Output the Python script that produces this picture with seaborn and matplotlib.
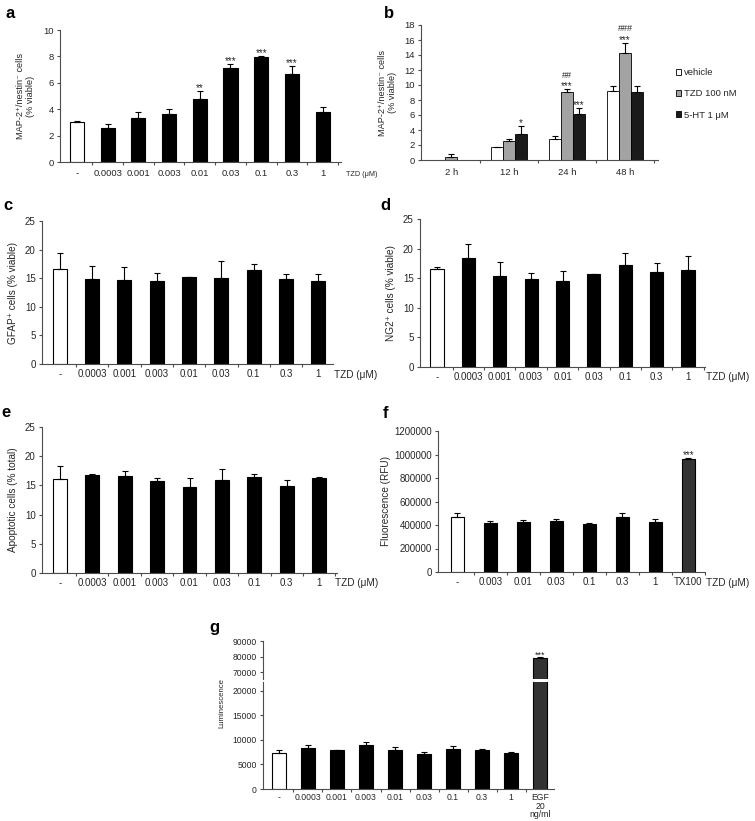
import numpy as np
import pandas as pd
import matplotlib
matplotlib.use("Agg")
import matplotlib.pyplot as plt
import seaborn as sns
from matplotlib.patches import Patch
from matplotlib.ticker import FixedLocator, MultipleLocator, StrMethodFormatter

# ---------------- data ----------------
a_cats = ['-', '0.0003', '0.001', '0.003', '0.01', '0.03', '0.1', '0.3', '1']
a_vals = [3.0, 2.6, 3.3, 3.6, 4.75, 7.1, 7.95, 6.65, 3.75]
a_errs = [0.12, 0.3, 0.45, 0.45, 0.65, 0.35, 0.1, 0.6, 0.38]
a_sig = ['', '', '', '', '**', '***', '***', '***', '']

b_times = ['2 h', '12 h', '24 h', '48 h']
b_groups = ['vehicle', 'TZD 100 nM', '5-HT 1 μM']
b_vehicle = [0.0, 1.7, 2.8, 9.2]
b_vehicle_err = [0.0, 0.05, 0.45, 0.7]
b_tzd = [0.4, 2.5, 9.0, 14.2]
b_tzd_err = [0.45, 0.3, 0.4, 1.4]
b_5ht = [0.0, 3.4, 6.1, 9.1]
b_5ht_err = [0.0, 1.1, 0.8, 0.7]
b_tzd_sig = ['', '', '***', '***']
b_tzd_hash = ['', '', '##', '###']
b_5ht_sig = ['', '*', '***', '']

c_vals = [16.6, 14.9, 14.7, 14.5, 15.2, 15.1, 16.4, 14.9, 14.5]
c_errs = [2.75, 2.2, 2.3, 1.4, 0.05, 2.85, 1.05, 0.85, 1.15]

d_vals = [16.5, 18.45, 15.3, 14.85, 14.6, 15.65, 17.2, 16.05, 16.4]
d_errs = [0.35, 2.3, 2.4, 1.07, 1.7, 0.03, 2.0, 1.45, 2.4]

e_vals = [16.05, 16.8, 16.6, 15.7, 14.75, 15.85, 16.5, 14.9, 16.25]
e_errs = [2.3, 0.2, 0.95, 0.55, 1.5, 2.0, 0.4, 0.95, 0.2]

f_cats = ['-', '0.003', '0.01', '0.03', '0.1', '0.3', '1', 'TX100']
f_vals = [465000, 417000, 423000, 437000, 406000, 471000, 423000, 959000]
f_errs = [37000, 18000, 20000, 11000, 9000, 34000, 31000, 9000]
f_sig = ['', '', '', '', '', '', '', '***']

g_cats = ['-', '0.0003', '0.001', '0.003', '0.01', '0.03', '0.1', '0.3', '1', 'EGF\n20\nng/ml']
g_vals = [7380, 8270, 7930, 8940, 7860, 7110, 8130, 7860, 7250, 79200]
g_errs = [600, 670, 80, 680, 680, 340, 670, 270, 340, 300]
g_sig = ['', '', '', '', '', '', '', '', '', '***']

# ---------------- style ----------------
sns.set_theme(style="ticks")
plt.rcParams['font.family'] = ['Liberation Sans', 'DejaVu Sans']
plt.rcParams['axes.linewidth'] = 0.8
plt.rcParams['axes.edgecolor'] = '#4d4d4d'
plt.rcParams['xtick.color'] = '#4d4d4d'
plt.rcParams['ytick.color'] = '#4d4d4d'
plt.rcParams['xtick.labelcolor'] = '#262626'
plt.rcParams['ytick.labelcolor'] = '#262626'
plt.rcParams['text.color'] = '#262626'

W, H = 755, 821
fig = plt.figure(figsize=(W / 100, H / 100), dpi=100)


def add_ax(x0, x1, ytop, ybot):
    return fig.add_axes([x0 / W, 1 - ybot / H, (x1 - x0) / W, (ybot - ytop) / H])


def sorted_patches(ax):
    return sorted(ax.patches, key=lambda p: p.get_x())


def star(ax, x, y, s, fs=7, dy=0.0):
    ax.annotate(s, xy=(x, y), xytext=(0, dy), textcoords='offset points',
                ha='center', va='baseline', fontsize=fs, color='#262626')


def single_bars(ax, cats, vals, errs, colors, width, sig=None, capsize=2.2,
                starsize=7):
    df = pd.DataFrame({'cat': cats, 'val': vals})
    sns.barplot(data=df, x='cat', y='val', hue='cat', order=cats,
                hue_order=cats, palette=colors, width=width, dodge=False,
                edgecolor='black', linewidth=0.8, legend=False, ax=ax)
    ps = sorted_patches(ax)
    xs = np.array([p.get_x() + p.get_width() / 2 for p in ps])
    v = np.array(vals, float)
    e = np.array(errs, float)
    ax.errorbar(xs, v, yerr=[np.zeros_like(e), e], fmt='none', ecolor='black',
                elinewidth=0.8, capsize=capsize, capthick=0.8, zorder=3)
    if sig is not None:
        for x, vv, ee, s in zip(xs, v, e, sig):
            if s:
                star(ax, x, vv + ee, s, fs=starsize)
    return xs


def style_ax(ax, n, xlim, ylim, ystep, fs=6.8, pad=4):
    sns.despine(ax=ax)
    ax.set_xlim(*xlim)
    ax.set_ylim(*ylim)
    ax.yaxis.set_major_locator(MultipleLocator(ystep))
    ax.set_xlabel('')
    ax.set_ylabel('')
    ax.xaxis.set_minor_locator(FixedLocator(np.arange(n) + 0.5))
    ax.tick_params(axis='x', which='major', length=0, labelsize=fs, pad=pad)
    ax.tick_params(axis='x', which='minor', length=2.5, width=0.8)
    ax.tick_params(axis='y', which='major', length=2.5, width=0.8,
                   labelsize=fs, pad=2)


def ylabel(ax, text, right_px, x0, x1, fs):
    ax.set_ylabel(text, fontsize=fs, linespacing=1.1)
    ax.yaxis.set_label_coords((right_px - x0) / (x1 - x0), 0.5)


def ftext(px, py, s, **kw):
    fig.text(px / W, 1 - py / H, s, **kw)


black9 = ['white'] + ['black'] * 8

# ---------------- panel a ----------------
x0, x1 = 60, 341
ax = add_ax(x0, x1, 30, 162)
single_bars(ax, a_cats, a_vals, a_errs, black9, 0.46, a_sig)
style_ax(ax, 9, (-0.55, 8.6), (0, 10), 2, fs=6.8, pad=5)
ylabel(ax, 'MAP-2⁺/nestin⁻ cells\n(% viable)', 35, x0, x1, 6.6)
ftext(362, 174, 'TZD (μM)', fontsize=5.2, ha='center', va='center')

# ---------------- panel b ----------------
x0, x1 = 421, 658
ax = add_ax(x0, x1, 25, 160)
rows = []
for i, t in enumerate(b_times):
    rows.append((t, b_groups[0], b_vehicle[i]))
    rows.append((t, b_groups[1], b_tzd[i]))
    rows.append((t, b_groups[2], b_5ht[i]))
dfb = pd.DataFrame(rows, columns=['time', 'group', 'val'])
b_colors = ['white', '#a3a3a3', '#1a1a1a']
sns.barplot(data=dfb, x='time', y='val', hue='group', order=b_times,
            hue_order=b_groups, palette=b_colors, width=0.62,
            edgecolor='black', linewidth=0.6, legend=False, ax=ax)
ps = sorted_patches(ax)
xs = np.array([p.get_x() + p.get_width() / 2 for p in ps])
vals = []
errs = []
sigs = []
hashes = []
for i in range(len(b_times)):
    vals += [b_vehicle[i], b_tzd[i], b_5ht[i]]
    errs += [b_vehicle_err[i], b_tzd_err[i], b_5ht_err[i]]
    sigs += ['', b_tzd_sig[i], b_5ht_sig[i]]
    hashes += ['', b_tzd_hash[i], '']
vals = np.array(vals)
errs = np.array(errs)
m = errs > 0
ax.errorbar(xs[m], vals[m], yerr=[np.zeros(m.sum()), errs[m]], fmt='none',
            ecolor='black', elinewidth=0.8, capsize=2.0, capthick=0.8,
            zorder=3)
for x, v, e, s, h in zip(xs, vals, errs, sigs, hashes):
    if s:
        star(ax, x, v + e, s, fs=7, dy=0.3)
    if h:
        star(ax, x, v + e, h, fs=6.5, dy=8.5)
style_ax(ax, 4, (-0.52, 3.57), (0, 18), 2, fs=6.8, pad=6)
ylabel(ax, 'MAP-2⁺/nestin⁻ cells\n(% viable)', 397, x0, x1, 6.6)
handles = [Patch(facecolor=c, edgecolor='black', linewidth=0.6)
           for c in b_colors]
fig.legend(handles, b_groups, loc='upper left',
           bbox_to_anchor=(676 / W, 1 - 68 / H), frameon=False, fontsize=6.8,
           handlelength=0.55, handleheight=0.6, handletextpad=0.25,
           labelspacing=1.3, borderpad=0, borderaxespad=0)

# ---------------- panel c ----------------
x0, x1 = 42, 333
ax = add_ax(x0, x1, 221, 364)
single_bars(ax, a_cats, c_vals, c_errs, black9, 0.43)
style_ax(ax, 9, (-0.55, 8.45), (0, 25), 5, fs=7, pad=3.5)
ylabel(ax, 'GFAP⁺ cells (% viable)', 18, x0, x1, 7.2)
ftext(356, 375, 'TZD (μM)', fontsize=7.2, ha='center', va='center')

# ---------------- panel d ----------------
x0, x1 = 420, 705
ax = add_ax(x0, x1, 219, 367)
single_bars(ax, a_cats, d_vals, d_errs, black9, 0.42)
style_ax(ax, 9, (-0.54, 8.54), (0, 25), 5, fs=7, pad=3.5)
ylabel(ax, 'NG2⁺ cells (% viable)', 396, x0, x1, 7.2)
ftext(728, 377, 'TZD (μM)', fontsize=7.2, ha='center', va='center')

# ---------------- panel e ----------------
x0, x1 = 42, 337
ax = add_ax(x0, x1, 427, 573)
single_bars(ax, a_cats, e_vals, e_errs, black9, 0.43)
style_ax(ax, 9, (-0.55, 8.55), (0, 25), 5, fs=7, pad=3.5)
ylabel(ax, 'Apoptotic cells (% total)', 18, x0, x1, 7.2)
ftext(357, 583, 'TZD (μM)', fontsize=7.2, ha='center', va='center')

# ---------------- panel f ----------------
x0, x1 = 438, 705
ax = add_ax(x0, x1, 431, 572)
f_colors = ['white'] + ['black'] * 6 + ['#333333']
single_bars(ax, f_cats, f_vals, f_errs, f_colors, 0.39, f_sig)
style_ax(ax, 8, (-0.58, 7.5), (0, 1200000), 200000, fs=7, pad=3.5)
ax.yaxis.set_major_formatter(StrMethodFormatter('{x:.0f}'))
ylabel(ax, 'Fluorescence (RFU)', 391, x0, x1, 7.2)
ftext(728, 583, 'TZD (μM)', fontsize=7.2, ha='center', va='center')

# ---------------- panel g (broken axis) ----------------
x0, x1 = 263, 554
g_colors = ['white'] + ['black'] * 8 + ['#333333']
axg_top = add_ax(x0, x1, 641, 679)
axg = add_ax(x0, x1, 682, 789)
single_bars(axg, g_cats, g_vals, g_errs, g_colors, 0.48, capsize=2.0)
single_bars(axg_top, g_cats, g_vals, g_errs, g_colors, 0.48, g_sig,
            capsize=2.0, starsize=6.5)
style_ax(axg, 10, (-0.55, 9.48), (0, 21800), 5000, fs=6.2, pad=3)
axg.set_xticks(range(len(g_cats)))
axg.set_xticklabels(g_cats, linespacing=0.95)
style_ax(axg_top, 10, (-0.55, 9.48), (65500, 90000), 10000, fs=6.2)
axg_top.spines['bottom'].set_visible(False)
axg_top.tick_params(axis='x', which='both', bottom=False, labelbottom=False)
axg_top.yaxis.set_major_locator(FixedLocator([70000, 80000, 90000]))
ftext(222, 703, 'Luminescence', fontsize=5.6, rotation=90, ha='center',
      va='center')

# ---------------- panel letters ----------------
for lab, px, py in [('a', 10, 14), ('b', 389, 14), ('c', 8, 205),
                    ('d', 385, 205), ('e', 6, 412), ('f', 385, 413),
                    ('g', 214, 627)]:
    ftext(px, py, lab, fontsize=12, fontweight='bold', ha='center',
          va='center', color='black')

fig.savefig('out.png', dpi=100)
